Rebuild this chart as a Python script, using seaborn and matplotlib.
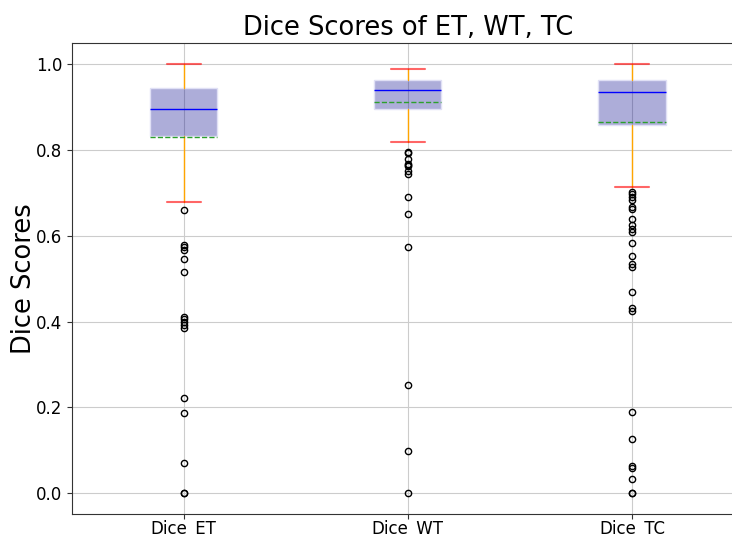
import matplotlib
matplotlib.use("Agg")
import matplotlib.pyplot as plt
import seaborn as sns

# ---- data ----
categories = ["Dice_ET", "Dice_WT", "Dice_TC"]
whisker_low = [0.678, 0.819, 0.715]
q1_values = [0.834, 0.897, 0.859]
median_values = [0.897, 0.941, 0.935]
q3_values = [0.945, 0.964, 0.964]
whisker_high = [1.000, 0.990, 1.000]
mean_values = [0.831, 0.912, 0.866]
fliers_et = [0.661, 0.579, 0.575, 0.566, 0.545, 0.516, 0.410, 0.405, 0.400,
             0.393, 0.384, 0.222, 0.186, 0.071, 0.0, 0.0]
fliers_wt = [0.795, 0.793, 0.780, 0.768, 0.765, 0.762, 0.752, 0.745, 0.690,
             0.650, 0.575, 0.252, 0.099, 0.0]
fliers_tc = [0.703, 0.697, 0.690, 0.683, 0.668, 0.662, 0.640, 0.625, 0.615,
             0.610, 0.583, 0.553, 0.535, 0.528, 0.470, 0.432, 0.425, 0.188,
             0.126, 0.062, 0.059, 0.032, 0.0, 0.0]
fliers_all = [fliers_et, fliers_wt, fliers_tc]

sns.set_style("white", rc={"axes.edgecolor": "#333333", "axes.linewidth": 0.8,
                           "xtick.bottom": True, "ytick.left": True,
                           "xtick.color": "#333333", "ytick.color": "#333333",
                           "text.color": "black", "axes.labelcolor": "black"})
plt.rcParams["font.family"] = ["DejaVu Sans"]

stats = []
for i, cat in enumerate(categories):
    stats.append(dict(label=cat, whislo=whisker_low[i], q1=q1_values[i],
                      med=median_values[i], q3=q3_values[i],
                      whishi=whisker_high[i], mean=mean_values[i],
                      fliers=fliers_all[i]))

fig, ax = plt.subplots(figsize=(7.32, 5.35), dpi=100)
fig.subplots_adjust(left=0.098, right=1.0164, bottom=0.0385, top=0.9196)

ax.bxp(stats, positions=[1, 2, 3], widths=0.3, patch_artist=True,
       showmeans=True, meanline=True,
       boxprops=dict(facecolor=(0.0, 0.0, 0.545, 0.32),
                     edgecolor=(0.88, 0.88, 0.96), linewidth=1.0),
       medianprops=dict(color="blue", linewidth=1.0),
       meanprops=dict(color="#2ca02c", linestyle="--", linewidth=1.0),
       whiskerprops=dict(color="orange", linewidth=1.0),
       capprops=dict(color=(1.0, 0.0, 0.0, 0.6), linewidth=1.5),
       flierprops=dict(marker="o", markerfacecolor="none",
                       markeredgecolor="black", markersize=4.5,
                       markeredgewidth=1.0))

ax.set_xlim(0.5, 3.5)
ax.set_ylim(-0.05, 1.05)
ax.set_yticks([0.0, 0.2, 0.4, 0.6, 0.8, 1.0])
ax.set_xticks([1, 2, 3])
ax.set_xticklabels(categories)
ax.tick_params(axis="both", labelsize=12, length=3.5, width=0.8,
               labelcolor="black")
ax.tick_params(axis="x", pad=0.3)
ax.set_axisbelow(True)
ax.grid(True, color="#cccccc", linewidth=0.8)
ax.set_title("Dice Scores of ET, WT, TC", fontsize=18.5)
ax.set_ylabel("Dice Scores", fontsize=18.5, labelpad=-1)

fig.savefig("out.png", dpi=100)
